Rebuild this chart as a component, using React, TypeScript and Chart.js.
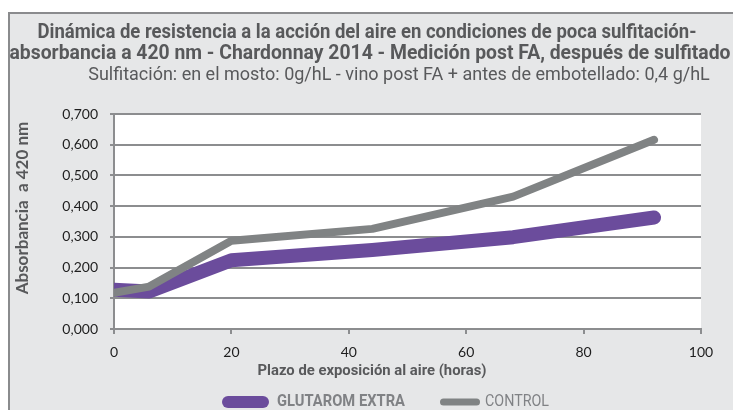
import React, { useEffect, useRef } from "react";
import { Chart, registerables } from "chart.js";

Chart.register(...registerables);

// ---- data ----
const hours = [0, 6, 20, 44, 68, 92];
const glutaromExtra = [0.128, 0.122, 0.224, 0.257, 0.299, 0.363];
const control = [0.118, 0.138, 0.287, 0.326, 0.431, 0.616];
const seriesNames = ["GLUTAROM EXTRA", "CONTROL"];
const titleLines = [
  "Dinámica de resistencia a la acción del aire en condiciones de poca sulfitación-",
  "absorbancia a 420 nm - Chardonnay 2014 - Medición post FA, después de sulfitado",
];
const subtitleText =
  "Sulfitación: en el mosto: 0g/hL - vino post FA + antes de embotellado: 0,4 g/hL";
const yAxisTitle = "Absorbancia  a 420 nm";
const xAxisTitle = "Plazo de exposición al aire (horas)";
const yRange = [0, 0.7, 0.1];
const xRange = [0, 100, 20];

const PURPLE = "#6b4c9c";
const GREY_LINE = "#808384";
const GRID = "#8c8d8f";
const BG = "#e6e7e8";
const TEXT = "#58595b";
const COND = "Roboto, 'Liberation Sans', sans-serif";

function txt(
  ctx: CanvasRenderingContext2D,
  s: string,
  x: number,
  y: number,
  font: string,
  color: string,
  maxW?: number,
  align: CanvasTextAlign = "center"
) {
  ctx.save();
  ctx.font = font;
  ctx.fillStyle = color;
  ctx.textAlign = align;
  ctx.textBaseline = "middle";
  if (maxW) ctx.fillText(s, x, y, maxW);
  else ctx.fillText(s, x, y);
  ctx.restore();
}

function pill(ctx: CanvasRenderingContext2D, x: number, y: number, w: number, h: number, color: string) {
  const r = h / 2;
  ctx.save();
  ctx.fillStyle = color;
  ctx.beginPath();
  ctx.moveTo(x + r, y);
  ctx.lineTo(x + w - r, y);
  ctx.arc(x + w - r, y + r, r, -Math.PI / 2, Math.PI / 2);
  ctx.lineTo(x + r, y + h);
  ctx.arc(x + r, y + r, r, Math.PI / 2, (3 * Math.PI) / 2);
  ctx.closePath();
  ctx.fill();
  ctx.restore();
}

const framePlugin = {
  id: "frame",
  beforeDraw(chart: any) {
    const { ctx, chartArea } = chart;
    ctx.save();
    ctx.fillStyle = "#ffffff";
    ctx.fillRect(0, 0, chart.width, chart.height);
    ctx.fillStyle = BG;
    ctx.fillRect(8, 12, chart.width - 8, chart.height - 12);
    ctx.fillStyle = "#8a8b8d";
    ctx.fillRect(8, 12, 2, chart.height - 12);
    ctx.fillRect(8, 12, chart.width - 8, 2);
    ctx.fillStyle = "#ffffff";
    ctx.fillRect(chartArea.left, chartArea.top, chartArea.right - chartArea.left, chartArea.bottom - chartArea.top);
    ctx.restore();
  },
  afterDraw(chart: any) {
    const { ctx } = chart;
    txt(ctx, titleLines[0], 367, 33, `bold 19.5px ${COND}`, TEXT, 659);
    txt(ctx, titleLines[1], 370, 54, `bold 19.5px ${COND}`, TEXT, 721);
    txt(ctx, subtitleText, 399, 75, `18px ${COND}`, TEXT, 630);
    // y title
    ctx.save();
    ctx.translate(23, 208);
    ctx.rotate(-Math.PI / 2);
    txt(ctx, yAxisTitle, 0, 0, `bold 17px Lato, sans-serif`, TEXT, 190);
    ctx.restore();
    // x title
    txt(ctx, xAxisTitle, 372, 371, `bold 15px ${COND}`, TEXT, 229);
    // legend
    pill(ctx, 222, 396, 47, 12, PURPLE);
    txt(ctx, chart.data.datasets[0].label, 277, 402, `bold 17px ${COND}`, "#808285", 128, "left");
    pill(ctx, 440, 398.5, 40, 7, GREY_LINE);
    txt(ctx, chart.data.datasets[1].label, 485, 402, `17px ${COND}`, "#808285", 64, "left");
  },
};

export default function App() {
  const ref = useRef<HTMLCanvasElement | null>(null);
  useEffect(() => {
    if (!ref.current) return;
    const chart = new Chart(ref.current, {
      type: "line",
      data: {
        datasets: [
          {
            label: seriesNames[0],
            data: hours.map((h, i) => ({ x: h, y: glutaromExtra[i] })),
            borderColor: PURPLE,
            backgroundColor: PURPLE,
            borderWidth: 14,
            borderCapStyle: "round",
            borderJoinStyle: "round",
            pointRadius: 0,
            tension: 0,
            order: 2,
            clip: { left: 0, top: 20, right: 20, bottom: 20 },
          },
          {
            label: seriesNames[1],
            data: hours.map((h, i) => ({ x: h, y: control[i] })),
            borderColor: GREY_LINE,
            backgroundColor: GREY_LINE,
            borderWidth: 8,
            borderCapStyle: "round",
            borderJoinStyle: "round",
            pointRadius: 0,
            tension: 0,
            order: 1,
            clip: { left: 0, top: 20, right: 20, bottom: 20 },
          },
        ],
      },
      options: {
        responsive: false,
        animation: false,
        devicePixelRatio: 1,
        layout: { padding: { left: 14, top: 114, right: 32, bottom: 0 } },
        plugins: { legend: { display: false }, tooltip: { enabled: false }, title: { display: false } },
        scales: {
          x: {
            type: "linear",
            min: xRange[0],
            max: xRange[1],
            afterFit: (s: any) => {
              s.height = 81;
            },
            ticks: {
              stepSize: xRange[2],
              color: "#1e1e1e",
              font: { family: "Lato, sans-serif", size: 14 },
              padding: 10,
              maxRotation: 0,
            },
            grid: { drawOnChartArea: false, drawTicks: true, tickLength: 5, color: GRID, lineWidth: 2 },
            border: { display: true, color: GRID, width: 2 },
          },
          y: {
            min: yRange[0],
            max: yRange[1],
            afterFit: (s: any) => {
              s.width = 100;
            },
            ticks: {
              stepSize: yRange[2],
              color: "#1e1e1e",
              font: { family: "Lato, sans-serif", size: 14 },
              padding: 12,
              callback: (v: any) => Number(v).toFixed(3).replace(".", ","),
            },
            grid: { drawTicks: true, tickLength: 4, color: GRID, lineWidth: 2 },
            border: { display: true, color: GRID, width: 2 },
          },
        },
      },
      plugins: [framePlugin],
    } as any);
    return () => chart.destroy();
  }, []);
  return (
    <canvas
      ref={ref}
      width={733}
      height={410}
      style={{ position: "fixed", left: 0, top: 0, width: 733, height: 410, display: "block" }}
    />
  );
}
